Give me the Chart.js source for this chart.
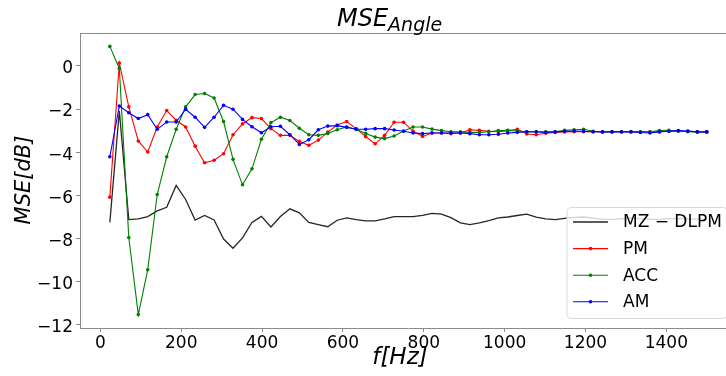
<!DOCTYPE html>
<html lang="en">
<head>
<meta charset="UTF-8">
<title>MSE Angle</title>
<script src="https://cdn.jsdelivr.net/npm/chart.js@4.4.1/dist/chart.umd.min.js"></script>
<style>
  html, body { margin: 0; padding: 0; background: #fff; overflow: hidden; }
  #wrap { width: 740px; height: 376px; }
</style>
</head>
<body>
<div id="wrap"><canvas id="mseChart" width="740" height="376"></canvas></div>
<script>
// frequency bins (Hz)
const freqs = [23.4, 46.9, 70.3, 93.8, 117.2, 140.6, 164.1, 187.5, 210.9, 234.4, 257.8, 281.3, 304.7, 328.1, 351.6, 375,
  398.4, 421.9, 445.3, 468.8, 492.2, 515.6, 539.1, 562.5, 585.9, 609.4, 632.8, 656.3, 679.7, 703.1, 726.6, 750,
  773.4, 796.9, 820.3, 843.8, 867.2, 890.6, 914.1, 937.5, 960.9, 984.4, 1007.8, 1031.3, 1054.7, 1078.1, 1101.6, 1125,
  1148.4, 1171.9, 1195.3, 1218.8, 1242.2, 1265.6, 1289.1, 1312.5, 1335.9, 1359.4, 1382.8, 1406.3, 1429.7, 1453.1, 1476.6, 1500];

const mzDlpm = [-7.25, -2.09, -7.12, -7.09, -6.98, -6.72, -6.55, -5.54, -6.19, -7.14, -6.93, -7.14, -8.02, -8.45, -7.97, -7.25,
  -6.97, -7.46, -6.98, -6.62, -6.81, -7.25, -7.35, -7.45, -7.15, -7.04, -7.12, -7.18, -7.18, -7.09, -6.98, -6.98,
  -6.98, -6.92, -6.83, -6.87, -7.03, -7.27, -7.35, -7.27, -7.17, -7.04, -7.00, -6.93, -6.87, -7.01, -7.09, -7.12,
  -7.06, -7.02, -7.00, -7.05, -7.10, -7.12, -7.08, -7.05, -7.08, -7.10, -7.12, -7.08, -7.06, -7.09, -7.10, -7.10];

const pm = [-6.08, 0.13, -1.90, -3.48, -3.99, -2.83, -2.07, -2.52, -2.83, -3.72, -4.49, -4.37, -4.07, -3.19, -2.69, -2.40,
  -2.44, -2.91, -3.22, -3.22, -3.50, -3.68, -3.44, -3.07, -2.74, -2.58, -2.91, -3.28, -3.61, -3.22, -2.61, -2.61,
  -3.02, -3.27, -3.11, -3.11, -3.14, -3.11, -2.96, -2.99, -3.03, -3.05, -3.00, -2.94, -3.16, -3.19, -3.12, -3.09,
  -3.06, -3.05, -3.05, -3.05, -3.06, -3.05, -3.05, -3.05, -3.06, -3.06, -3.05, -3.03, -3.03, -3.03, -3.06, -3.06];

const acc = [0.90, -0.12, -7.95, -11.52, -9.44, -5.96, -4.21, -2.94, -1.90, -1.33, -1.28, -1.49, -2.58, -4.33, -5.51, -4.77,
  -3.40, -2.63, -2.38, -2.53, -2.89, -3.19, -3.22, -3.13, -2.96, -2.83, -2.94, -3.13, -3.30, -3.37, -3.25, -3.02,
  -2.83, -2.83, -2.93, -3.00, -3.05, -3.06, -3.08, -3.08, -3.05, -3.00, -2.99, -3.02, -3.06, -3.06, -3.05, -3.06,
  -2.99, -2.96, -2.94, -3.03, -3.05, -3.05, -3.05, -3.05, -3.05, -3.05, -3.00, -2.99, -3.02, -3.05, -3.06, -3.06];

const am = [-4.21, -1.86, -2.17, -2.44, -2.26, -2.94, -2.60, -2.60, -2.01, -2.38, -2.85, -2.38, -1.83, -2.01, -2.48, -2.82,
  -3.10, -2.82, -2.80, -3.19, -3.64, -3.42, -2.96, -2.79, -2.77, -2.85, -2.94, -2.94, -2.91, -2.91, -2.97, -3.03,
  -3.11, -3.14, -3.11, -3.11, -3.11, -3.11, -3.14, -3.19, -3.19, -3.17, -3.11, -3.08, -3.05, -3.05, -3.08, -3.06,
  -3.03, -3.02, -3.03, -3.05, -3.06, -3.06, -3.06, -3.06, -3.09, -3.11, -3.06, -3.03, -3.00, -3.02, -3.06, -3.06];

const xTicks = [0, 200, 400, 600, 800, 1000, 1200, 1400];
const yTicks = [0, -2, -4, -6, -8, -10, -12];

const FONT = '"DejaVu Sans", sans-serif';
const minus = v => String(v).replace('-', '\u2212');
const pts = ys => freqs.map((f, i) => ({ x: f, y: ys[i] }));

function series(label, ys, color, marker, order) {
  return {
    label,
    data: pts(ys),
    borderColor: color,
    backgroundColor: color,
    borderWidth: marker ? 1.1 : 1.3,
    pointRadius: marker ? 1.8 : 0,
    pointHoverRadius: 0,
    pointBorderWidth: 0,
    tension: 0,
    fill: false,
    order
  };
}

// frame top line, title, axis titles
const textPlugin = {
  id: 'texts',
  afterDraw(chart) {
    const { ctx, chartArea: a } = chart;
    ctx.save();
    ctx.strokeStyle = '#8c8c8c';
    ctx.lineWidth = 1;
    ctx.beginPath();
    ctx.moveTo(a.left, a.top + 0.5);
    ctx.lineTo(a.right, a.top + 0.5);
    ctx.stroke();

    ctx.fillStyle = '#000';
    ctx.textBaseline = 'alphabetic';
    ctx.textAlign = 'left';
    ctx.font = 'italic 24px ' + FONT;
    const w1 = ctx.measureText('MSE').width;
    ctx.fillText('MSE', 337, 26);
    ctx.font = 'italic 19px ' + FONT;
    ctx.fillText('Angle', 337 + w1, 31);

    ctx.font = 'italic 23px ' + FONT;
    ctx.textAlign = 'center';
    ctx.textBaseline = 'middle';
    ctx.fillText('f[Hz]', 400, 358);

    ctx.font = 'italic 21px ' + FONT;
    ctx.save();
    ctx.translate(25, 180);
    ctx.rotate(-Math.PI / 2);
    ctx.fillText('MSE[dB]', 0, 0);
    ctx.restore();
    ctx.restore();
  }
};

// matplotlib-like legend in the lower right
const legendPlugin = {
  id: 'boxLegend',
  afterDraw(chart) {
    const { ctx } = chart;
    const x = 567, y = 207.5, w = 160, h = 111, r = 4;
    ctx.save();
    ctx.beginPath();
    ctx.roundRect(x, y, w, h, r);
    ctx.fillStyle = 'rgba(255,255,255,0.8)';
    ctx.fill();
    ctx.strokeStyle = '#d9d9d9';
    ctx.lineWidth = 1;
    ctx.stroke();

    ctx.font = '17px ' + FONT;
    ctx.textBaseline = 'middle';
    ctx.textAlign = 'left';
    chart.data.datasets.forEach((ds, i) => {
      const ly = 222 + i * 26.6;
      ctx.strokeStyle = ds.borderColor;
      ctx.lineWidth = ds.borderWidth;
      ctx.beginPath();
      ctx.moveTo(573, ly);
      ctx.lineTo(608, ly);
      ctx.stroke();
      if (ds.pointRadius > 0) {
        ctx.fillStyle = ds.borderColor;
        ctx.beginPath();
        ctx.arc(590.5, ly, ds.pointRadius, 0, Math.PI * 2);
        ctx.fill();
      }
      ctx.fillStyle = '#000';
      ctx.fillText(ds.label, 623, ly + 1);
    });
    ctx.restore();
  }
};

new Chart(document.getElementById('mseChart'), {
  type: 'line',
  data: {
    datasets: [
      series('MZ \u2212 DLPM', mzDlpm, '#262626', false, 3),
      series('PM', pm, '#ff0000', true, 2),
      series('ACC', acc, '#008000', true, 1),
      series('AM', am, '#0000ff', true, 0)
    ]
  },
  options: {
    responsive: false,
    animation: false,
    devicePixelRatio: 1,
    layout: { padding: { top: 33, right: 3.4, bottom: 0, left: 0 } },
    plugins: {
      legend: { display: false },
      title: { display: false },
      tooltip: { enabled: false }
    },
    scales: {
      x: {
        type: 'linear',
        min: -50.4,
        max: 1573.8,
        afterBuildTicks: s => { s.ticks = xTicks.map(v => ({ value: v })); },
        afterFit: s => { s.height = 48; },
        grid: { drawOnChartArea: false, drawTicks: true, tickLength: 4, color: '#8c8c8c' },
        border: { display: true, color: '#8c8c8c', width: 1 },
        ticks: { color: '#000', padding: 1, maxRotation: 0, font: { family: FONT, size: 17 }, callback: v => minus(v) }
      },
      y: {
        min: -12.14,
        max: 1.52,
        afterBuildTicks: s => { s.ticks = yTicks.map(v => ({ value: v })); },
        afterFit: s => { s.width = 80; },
        grid: { drawOnChartArea: false, drawTicks: true, tickLength: 4, color: '#8c8c8c' },
        border: { display: true, color: '#8c8c8c', width: 1 },
        ticks: { color: '#000', padding: 3, labelOffset: 3, font: { family: FONT, size: 17 }, callback: v => minus(v) }
      }
    }
  },
  plugins: [textPlugin, legendPlugin]
});
</script>
</body>
</html>
